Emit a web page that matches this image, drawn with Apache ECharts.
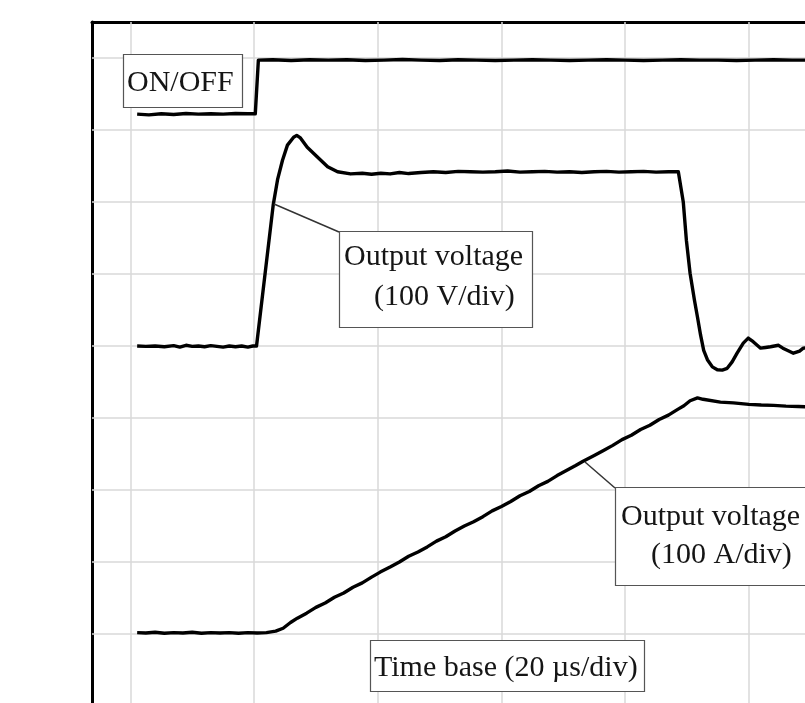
<!DOCTYPE html>
<html><head><meta charset="utf-8">
<script src="https://cdn.jsdelivr.net/npm/echarts@6/dist/echarts.min.js"></script>
<style>html,body{margin:0;padding:0;background:#fff}#c{width:805px;height:703px}</style>
</head><body><div id="c"></div><script>
// time in µs (20 µs/div), amplitude in screen divisions
const gridTimes = [0, 20, 40, 60, 80, 100];
const gridDivs = [0, 1, 2, 3, 4, 5, 6, 7, 8];

const onoffT = [1.1,3,5,7,9,11,13,15,17,19,20.2,20.7,23,26,29,32,35,38,41,44,47,50,53,56,59,62,65,68,71,74,77,80,83,86,89,92,95,98,101,104,107,110];
const onoffV = [7.22,7.21,7.225,7.215,7.23,7.22,7.225,7.22,7.23,7.225,7.225,7.97,7.975,7.965,7.975,7.97,7.975,7.965,7.97,7.98,7.97,7.965,7.975,7.97,7.965,7.97,7.975,7.97,7.965,7.97,7.975,7.97,7.965,7.97,7.975,7.97,7.97,7.965,7.97,7.975,7.97,7.97];

const voltT = [1.1,2.5,4,5.5,7,8,9,10,11,12,13,14,15,16,17,18,19,19.8,20.4,23.1,23.8,24.6,25.4,26.4,26.9,27.5,28.6,30.2,31.9,33.5,35.6,37.5,39,40.5,42,43.5,45,47,49,51,53,55,57,59,61,63,65,67,69,71,73,75,77,79,81,83,85,87,88.6,88.9,89.4,89.9,90.5,91.2,91.7,92.2,92.7,93.3,94.1,94.9,95.7,96.5,97.3,98.1,99.1,99.9,100.7,101.9,102.7,103.5,104.8,105.5,106.2,107.2,108.2,108.8,110];
const voltV = [4.0,3.995,4.0,3.99,4.005,3.985,4.01,3.995,4.0,3.99,4.005,3.995,3.985,4.0,3.99,4.0,3.985,4.0,4.0,5.96,6.31,6.58,6.79,6.90,6.925,6.89,6.76,6.63,6.49,6.42,6.39,6.40,6.385,6.40,6.39,6.41,6.395,6.41,6.42,6.41,6.425,6.42,6.415,6.42,6.43,6.415,6.42,6.425,6.415,6.42,6.41,6.42,6.425,6.415,6.42,6.425,6.415,6.42,6.42,6.40,6.0,5.47,5.01,4.64,4.40,4.15,3.94,3.81,3.71,3.67,3.665,3.69,3.78,3.90,4.04,4.11,4.06,3.97,3.98,3.99,4.01,3.97,3.94,3.90,3.93,3.97,3.98];

const currT = [1.1,2.5,4,5.5,7,8.5,10,11.5,13,14.5,16,17.5,19,20.5,22,23.5,24.7,25.9,27,28.5,30,31.5,33,34.5,36,37.5,39,40.4,42,43.5,45,46.5,48,49.5,51,52.5,54,55.5,57,58.5,60,61.5,63,64.5,66,67.5,69,70.5,72,73.2,75,76.5,78,79.5,81,82.5,84,85.5,87,88.5,89.5,90.5,91.7,92.6,95.4,97.5,100,102,104,106,108,110];
const currV = [0.02,0.015,0.025,0.01,0.02,0.015,0.025,0.01,0.02,0.015,0.02,0.01,0.02,0.015,0.02,0.04,0.08,0.16,0.22,0.29,0.37,0.43,0.51,0.57,0.65,0.71,0.79,0.86,0.93,1.0,1.08,1.14,1.21,1.29,1.35,1.43,1.50,1.56,1.63,1.71,1.77,1.84,1.92,1.98,2.06,2.12,2.20,2.27,2.34,2.40,2.48,2.55,2.62,2.70,2.76,2.84,2.90,2.98,3.04,3.12,3.17,3.24,3.28,3.26,3.22,3.21,3.19,3.18,3.175,3.165,3.16,3.155];

const zip = (a, b) => a.map((v, i) => [v, b[i]]);
const traceStyle = { color: '#000', width: 3.4, join: 'round' };
const font = { fontFamily: 'Liberation Serif', fontSize: 30, fill: '#151515' };
const frame = { show: true, onZero: false, lineStyle: { color: '#000', width: 3 } };

const chart = echarts.init(document.getElementById('c'), null, { renderer: 'canvas' });
chart.setOption({
  animation: false,
  backgroundColor: '#fff',
  grid: { left: 92, top: 22, right: 0, bottom: 0, show: false },
  xAxis: { type: 'value', position: 'top', min: -6.2, max: 109.08, axisLine: frame, axisTick: { show: false }, axisLabel: { show: false }, splitLine: { show: false } },
  yAxis: { type: 'value', position: 'left', min: -0.958, max: 8.5, axisLine: frame, axisTick: { show: false }, axisLabel: { show: false }, splitLine: { show: false } },
  series: [
    { type: 'line', z: 1, data: [], silent: true,
      markLine: { z: 1, silent: true, symbol: ['none', 'none'], label: { show: false },
        lineStyle: { color: '#d9d9d9', width: 1.5, type: 'solid' },
        data: gridTimes.map(v => ({ xAxis: v })).concat(gridDivs.map(v => ({ yAxis: v }))) } },
    { type: 'line', name: 'ON/OFF', z: 3, showSymbol: false, data: zip(onoffT, onoffV), lineStyle: traceStyle },
    { type: 'line', name: 'Voltage', z: 3, showSymbol: false, data: zip(voltT, voltV), lineStyle: traceStyle },
    { type: 'line', name: 'Current', z: 3, showSymbol: false, data: zip(currT, currV), lineStyle: traceStyle }
  ],
  graphic: { elements: [
    { type: 'line', z: 100, shape: { x1: 274, y1: 204, x2: 339, y2: 232 }, style: { stroke: '#333', lineWidth: 1.5 } },
    { type: 'line', z: 100, shape: { x1: 585, y1: 462, x2: 615, y2: 488 }, style: { stroke: '#333', lineWidth: 1.5 } },
    { type: 'rect', z: 100, shape: { x: 123.5, y: 54.5, width: 119, height: 53 }, style: { fill: '#fff', stroke: '#555', lineWidth: 1.2 } },
    { type: 'text', z: 101, x: 127, y: 83, style: Object.assign({ text: 'ON/OFF', align: 'left', verticalAlign: 'middle' }, font) },
    { type: 'rect', z: 100, shape: { x: 339.5, y: 231.5, width: 193, height: 96 }, style: { fill: '#fff', stroke: '#555', lineWidth: 1.2 } },
    { type: 'text', z: 101, x: 344, y: 257.5, style: Object.assign({ text: 'Output voltage', align: 'left', verticalAlign: 'middle' }, font) },
    { type: 'text', z: 101, x: 374, y: 297, style: Object.assign({ text: '(100 V/div)', align: 'left', verticalAlign: 'middle' }, font) },
    { type: 'rect', z: 100, shape: { x: 615.5, y: 487.5, width: 250, height: 98 }, style: { fill: '#fff', stroke: '#555', lineWidth: 1.2 } },
    { type: 'text', z: 101, x: 621, y: 517, style: Object.assign({ text: 'Output voltage', align: 'left', verticalAlign: 'middle' }, font) },
    { type: 'text', z: 101, x: 651, y: 555, style: Object.assign({ text: '(100 A/div)', align: 'left', verticalAlign: 'middle' }, font) },
    { type: 'rect', z: 100, shape: { x: 370.5, y: 640.5, width: 274, height: 51 }, style: { fill: '#fff', stroke: '#555', lineWidth: 1.2 } },
    { type: 'text', z: 101, x: 374, y: 668, style: Object.assign({ text: 'Time base (20 µs/div)', align: 'left', verticalAlign: 'middle' }, font) }
  ] }
});
</script></body></html>
